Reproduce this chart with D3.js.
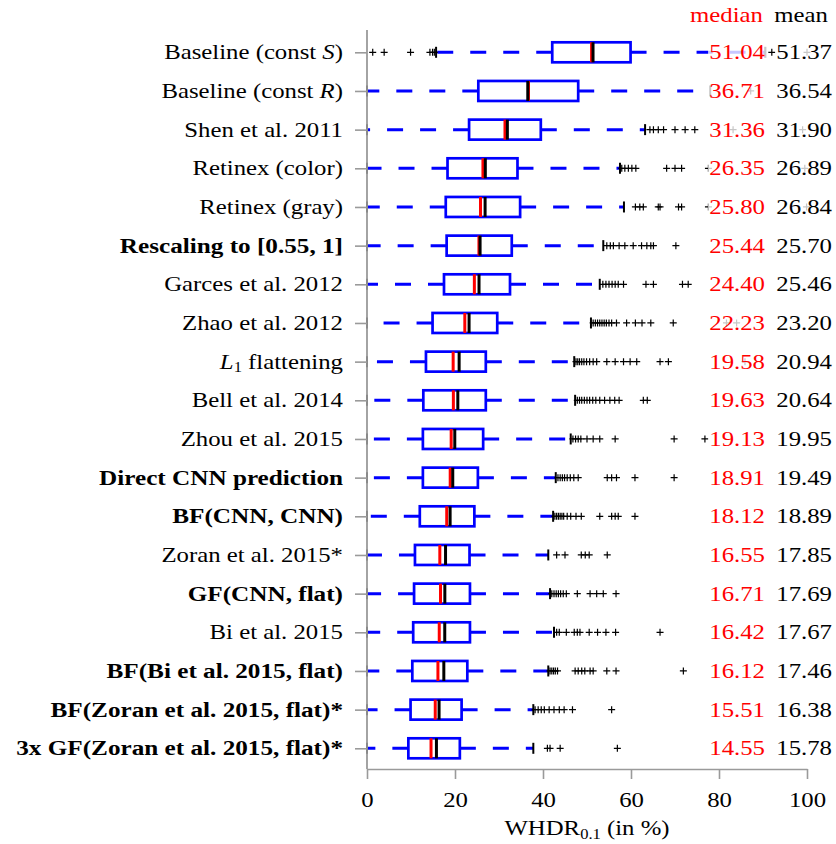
<!DOCTYPE html>
<html><head><meta charset="utf-8">
<script src="https://cdn.jsdelivr.net/npm/d3@7"></script>
<style>
html,body{margin:0;padding:0;background:#fff;}
svg{display:block;font-family:"Liberation Serif","Times New Roman",serif;}
</style></head><body>
<svg id="chart" width="836" height="844"></svg>
<script>
// Methods, top to bottom. *x* = italic, ~x~ = subscript.
const methods = [
  "Baseline (const *S*)", "Baseline (const *R*)", "Shen et al. 2011", "Retinex (color)",
  "Retinex (gray)", "Rescaling to [0.55, 1]", "Garces et al. 2012", "Zhao et al. 2012",
  "*L*~1~ flattening", "Bell et al. 2014", "Zhou et al. 2015", "Direct CNN prediction",
  "BF(CNN, CNN)", "Zoran et al. 2015*", "GF(CNN, flat)", "Bi et al. 2015",
  "BF(Bi et al. 2015, flat)", "BF(Zoran et al. 2015, flat)*", "3x GF(Zoran et al. 2015, flat)*"
];
const boldRows = [0,0,0,0,0,1,0,0,0,0,0,1,1,0,1,0,1,1,1];

const medians = [51.04, 36.71, 31.36, 26.35, 25.80, 25.44, 24.40, 22.23, 19.58, 19.63,
                 19.13, 18.91, 18.12, 16.55, 16.71, 16.42, 16.12, 15.51, 14.55];
const means   = [51.37, 36.54, 31.90, 26.89, 26.84, 25.70, 25.46, 23.20, 20.94, 20.64,
                 19.95, 19.49, 18.89, 17.85, 17.69, 17.67, 17.46, 16.38, 15.78];
const q1      = [42.1, 25.3, 23.2, 18.3, 17.9, 18.1, 17.5, 14.9, 13.4, 12.8,
                 12.7, 12.7, 12.0, 10.9, 10.7, 10.5, 10.3, 9.9, 9.4];
const q3      = [59.9, 48.0, 39.5, 34.2, 34.8, 32.9, 32.5, 29.6, 27.0, 27.0,
                 26.4, 25.2, 24.4, 23.3, 23.4, 23.4, 22.8, 21.5, 21.1];
const whiskerLow  = [15.7, 0, 0, 0, 0, 0, 0, 0, 0, 0, 0, 0, 0, 0, 0, 0, 0, 0, 0];
const whiskerHigh = [90.5, 78.0, 63.2, 57.5, 58.4, 53.7, 52.9, 50.9, 47.1, 47.3,
                     46.3, 42.9, 42.3, 41.2, 41.6, 42.5, 41.2, 37.8, 37.8];
const outliers = [
  [1.3, 3.9, 9.9, 14.3, 14.9, 15.3, 92.0, 100.0],
  [87.2],
  [64.3, 65.1, 66.2, 67.4, 70.0, 72.3, 74.5, 83.2, 99.0],
  [57.9, 58.6, 59.4, 60.2, 61.1, 68.1, 70.0, 71.5, 77.6, 99.5],
  [61.0, 62.0, 62.8, 66.2, 66.6, 70.8, 71.5, 77.6, 99.9],
  [54.5, 55.3, 56.0, 57.3, 58.6, 60.5, 62.4, 63.6, 64.5, 65.1, 70.2],
  [53.6, 54.3, 55.0, 55.7, 56.4, 57.1, 58.3, 63.4, 65.1, 71.7, 73.0],
  [51.4, 51.9, 52.4, 52.9, 53.4, 53.9, 54.4, 55.0, 55.6, 56.7, 59.0, 61.0, 62.5, 64.5, 69.6, 81.7, 84.0],
  [47.5, 47.9, 48.3, 48.8, 49.3, 49.9, 50.6, 51.4, 52.2, 54.5, 56.4, 58.3, 59.8, 61.3, 66.6, 68.5, 85.9],
  [47.8, 48.3, 48.8, 49.4, 50.0, 50.6, 51.3, 52.0, 52.9, 54.0, 55.2, 56.3, 57.3, 62.8, 63.7],
  [46.8, 47.4, 48.0, 48.6, 50.0, 51.4, 52.9, 56.4, 69.8, 76.8],
  [43.4, 43.9, 44.4, 44.9, 45.5, 46.2, 47.0, 48.0, 54.6, 55.6, 56.7, 60.9, 69.8],
  [42.7, 43.1, 43.5, 43.9, 44.3, 44.7, 45.5, 46.3, 47.5, 48.7, 52.9, 55.6, 56.4, 57.1, 60.9],
  [43.1, 45.0, 48.7, 49.6, 50.5, 54.6],
  [42.0, 42.5, 43.0, 43.5, 44.0, 44.6, 45.3, 47.8, 50.7, 52.2, 53.7, 56.6],
  [43.1, 43.7, 45.3, 47.1, 47.8, 48.4, 50.5, 52.4, 54.3, 56.5, 66.6],
  [41.6, 42.0, 42.4, 42.8, 43.3, 47.3, 48.0, 48.8, 49.5, 50.7, 51.4, 54.5, 56.6, 71.9],
  [38.2, 38.9, 39.6, 40.3, 41.4, 42.5, 43.7, 44.8, 46.7, 55.6],
  [41.0, 41.6, 43.9, 56.9]
];
const xTicks = [0, 20, 40, 60, 80, 100];

const FS = 21, SX = 1.18, SXB = 1.2;
const BLUE = "#0000ff", RED = "#ff0000", GRAY = "#9a9a9a";

const svg = d3.select("#chart");
const x = d3.scaleLinear().domain([0, 100]).range([367, 807]);
const y = d3.scalePoint().domain(d3.range(methods.length)).range([52.3, 748.3]);
const boxH = 20, capH = 11, plus = 3.5;

// text with horizontal stretch to approximate Computer Modern proportions
function stretchedText(parent, px, py, anchor, sx) {
  return parent.append("g")
    .attr("transform", `translate(${px},${py}) scale(${sx},1)`)
    .append("text").attr("text-anchor", anchor).attr("font-size", FS);
}
function richLabel(text, str) {
  const parts = str.split(/(\*[^*]+\*|~[^~]+~)/).filter(s => s.length);
  let shifted = false;
  parts.forEach(p => {
    const t = text.append("tspan");
    if (p.startsWith("*")) { t.text(p.slice(1, -1)).attr("font-style", "italic"); }
    else if (p.startsWith("~")) { t.text(p.slice(1, -1)).attr("font-size", 14).attr("dy", 3.5); shifted = true; return; }
    else t.text(p);
    if (shifted) { t.attr("dy", -3.5); shifted = false; }
  });
}

const rows = svg.append("g").selectAll("g.row")
  .data(methods.map((m, i) => i)).join("g").attr("class", "row");

// dashed whiskers from the box outward
rows.append("line")
  .attr("x1", i => x(q1[i])).attr("x2", i => x(whiskerLow[i]))
  .attr("y1", i => y(i)).attr("y2", i => y(i))
  .attr("stroke", BLUE).attr("stroke-width", 3).attr("stroke-dasharray", "16,17");
rows.append("line")
  .attr("x1", i => x(q3[i])).attr("x2", i => x(whiskerHigh[i]))
  .attr("y1", i => y(i)).attr("y2", i => y(i))
  .attr("stroke", BLUE).attr("stroke-width", 3).attr("stroke-dasharray", "16,17");

// whisker caps
rows.selectAll("line.cap").data(i => [[i, whiskerLow[i]], [i, whiskerHigh[i]]]).join("line")
  .attr("class", "cap")
  .attr("x1", d => x(d[1])).attr("x2", d => x(d[1]))
  .attr("y1", d => y(d[0]) - capH / 2).attr("y2", d => y(d[0]) + capH / 2)
  .attr("stroke", "#000").attr("stroke-width", 2);

// outliers
rows.selectAll("path.out").data(i => outliers[i].map(v => [i, v])).join("path")
  .attr("class", "out")
  .attr("d", d => {
    const cx = x(d[1]), cy = y(d[0]);
    return `M${cx - plus},${cy}H${cx + plus}M${cx},${cy - plus}V${cy + plus}`;
  })
  .attr("stroke", "#000").attr("stroke-width", 1.2).attr("fill", "none");

// boxes
rows.append("rect")
  .attr("x", i => x(q1[i])).attr("width", i => x(q3[i]) - x(q1[i]))
  .attr("y", i => y(i) - boxH / 2).attr("height", boxH)
  .attr("fill", "none").attr("stroke", BLUE).attr("stroke-width", 2.7);

// median (red) and mean (black)
rows.append("line")
  .attr("x1", i => x(medians[i])).attr("x2", i => x(medians[i]))
  .attr("y1", i => y(i) - boxH / 2).attr("y2", i => y(i) + boxH / 2)
  .attr("stroke", RED).attr("stroke-width", 3);
rows.append("line")
  .attr("x1", i => x(means[i])).attr("x2", i => x(means[i]))
  .attr("y1", i => y(i) - boxH / 2).attr("y2", i => y(i) + boxH / 2)
  .attr("stroke", "#000").attr("stroke-width", 3);

// value columns with translucent white backing
function valueColumn(values, endX, color) {
  values.forEach((v, i) => {
    const t = stretchedText(svg, endX, y(i) + 7, "end", SX).attr("fill", color).text(v.toFixed(2));
    const b = t.node().getBBox();
    d3.select(t.node().parentNode).insert("rect", "text")
      .attr("x", b.x - 1).attr("y", b.y).attr("width", b.width + 2).attr("height", b.height)
      .attr("fill", "#fff").attr("opacity", 0.78);
  });
}
valueColumn(medians, 765, RED);
valueColumn(means, 832, "#000");
stretchedText(svg, 763, 22, "end", SX).attr("fill", RED).text("median");
stretchedText(svg, 828, 22, "end", SX).attr("fill", "#000").text("mean");

// method labels
methods.forEach((m, i) => {
  const t = stretchedText(svg, 343, y(i) + 7, "end", boldRows[i] ? SXB : SX)
    .attr("font-weight", boldRows[i] ? "bold" : "normal");
  richLabel(t, m);
});

// axes
const xAxis = svg.append("g").attr("transform", "translate(0,769)")
  .call(d3.axisBottom(x).tickValues(xTicks).tickSize(10).tickSizeOuter(0));
xAxis.select(".domain").attr("stroke", GRAY).attr("stroke-width", 1.6);
xAxis.selectAll(".tick line").attr("stroke", GRAY).attr("stroke-width", 1.6);
xAxis.selectAll(".tick text")
  .attr("font-family", "Liberation Serif, serif").attr("font-size", FS).attr("fill", "#000")
  .attr("y", 38).attr("dy", 0).attr("transform", `scale(${SX},1)`);

const yAxis = svg.append("g").attr("transform", `translate(${x(0)},0)`)
  .call(d3.axisLeft(y).tickSize(12).tickFormat(""));
yAxis.select(".domain").remove();
yAxis.selectAll(".tick line").attr("stroke", GRAY).attr("stroke-width", 1.6);
svg.append("line").attr("x1", x(0)).attr("x2", x(0)).attr("y1", 30).attr("y2", 769)
  .attr("stroke", GRAY).attr("stroke-width", 1.8);

// axis title
const title = stretchedText(svg, 587, 835, "middle", SX);
richLabel(title, "WHDR~0.1~ (in %)");
</script>
</body></html>
